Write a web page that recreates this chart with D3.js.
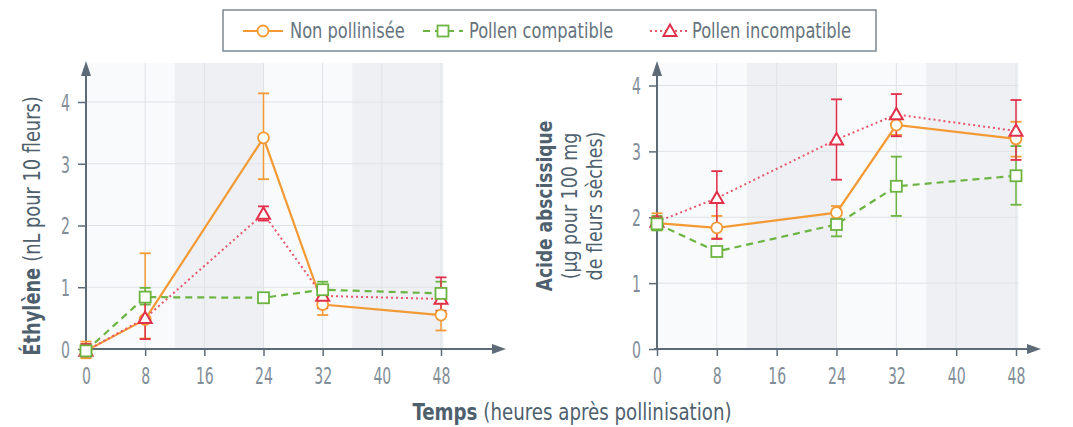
<!DOCTYPE html>
<html><head><meta charset="utf-8">
<script src="https://cdn.jsdelivr.net/npm/d3@7"></script>
<style>
body{margin:0;background:#fff;}
svg text{font-family:"DejaVu Sans Condensed","DejaVu Sans",sans-serif;}
</style></head><body>
<svg id="c" width="1073" height="427"></svg>
<script>
// ---- data ----
const hours = [0, 8, 24, 32, 48];
const xTicks = [0, 8, 16, 24, 32, 40, 48];
const yTicks = [0, 1, 2, 3, 4];
const seriesNames = ["Non pollinisée", "Pollen compatible", "Pollen incompatible"];
const nightBands = [[12, 24], [36, 48.3]];

// Ethylène (nL pour 10 fleurs)
const ethNon      = [-0.03, 0.48, 3.42, 0.72, 0.55];
const ethNonLo    = [-0.15, 0.17, 2.75, 0.55, 0.30];
const ethNonHi    = [0.12, 1.55, 4.14, 0.88, 0.82];
const ethComp     = [-0.03, 0.84, 0.83, 0.96, 0.90];
const ethCompLo   = [-0.12, 0.72, 0.76, 0.84, 0.74];
const ethCompHi   = [0.08, 0.99, 0.90, 1.09, 1.09];
const ethIncomp   = [-0.03, 0.50, 2.19, 0.86, 0.81];
const ethIncompLo = [-0.12, 0.16, 2.08, 0.66, 0.62];
const ethIncompHi = [0.08, 0.80, 2.31, 1.02, 1.16];

// Acide abscissique (µg pour 100 mg de fleurs sèches)
const abaNon      = [1.91, 1.84, 2.07, 3.40, 3.19];
const abaNonLo    = [1.81, 1.68, 1.98, 3.25, 2.92];
const abaNonHi    = [2.06, 2.02, 2.17, 3.52, 3.45];
const abaComp     = [1.90, 1.48, 1.89, 2.47, 2.63];
const abaCompLo   = [1.80, 1.42, 1.71, 2.02, 2.19];
const abaCompHi   = [2.02, 1.55, 2.06, 2.92, 3.08];
const abaIncomp   = [1.93, 2.29, 3.18, 3.56, 3.31];
const abaIncompLo = [1.85, 1.67, 2.57, 3.23, 2.87];
const abaIncompHi = [2.00, 2.70, 3.79, 3.87, 3.78];

// ---- styles ----
const COL = ["#f39a35", "#6cb441", "#e2304a"];
const LINECOL = ["#f39a35", "#6cb441", "#e8576c"];
const DASH = [null, "7,5", "2,3"];
const SHAPE = ["circle", "square", "triangle"];
const AXIS = "#5d6b78";
const TICKTXT = "#828e98";
const TITLE = "#4e5f6e";

const svg = d3.select("#c");

// horizontally condense a text element (mimics a condensed typeface)
function condense(sel, f) {
  sel.each(function () {
    const L = this.getComputedTextLength();
    d3.select(this).attr("textLength", L * f).attr("lengthAdjust", "spacingAndGlyphs");
  });
}

// centred text made of parts (bold/regular), each condensed separately
function richText(parent, transform, parts, size, f, gap, color) {
  const g = parent.append("g").attr("transform", transform);
  const items = parts.map(p => {
    const t = g.append("text").style("font-size", size + "px").attr("fill", color)
      .attr("font-weight", p[1] ? "bold" : "normal").text(p[0]);
    const L = t.node().getComputedTextLength() * f;
    t.attr("textLength", L).attr("lengthAdjust", "spacingAndGlyphs");
    return {t, L};
  });
  const total = d3.sum(items, d => d.L) + gap * (items.length - 1);
  let pos = -total / 2;
  items.forEach(d => { d.t.attr("x", pos); pos += d.L + gap; });
  return g;
}

function marker(g, shape, x, y, color) {
  if (shape === "circle") {
    g.append("circle").attr("cx", x).attr("cy", y).attr("r", 5.5)
      .attr("fill", "#fff").attr("stroke", color).attr("stroke-width", 1.8);
  } else if (shape === "square") {
    g.append("rect").attr("x", x - 5.5).attr("y", y - 5.5).attr("width", 11).attr("height", 11)
      .attr("fill", "#fff").attr("stroke", color).attr("stroke-width", 1.8);
  } else {
    const s = 6.5;
    g.append("path").attr("d", `M${x},${y - s}L${x + s},${y + s * 0.75}L${x - s},${y + s * 0.75}Z`)
      .attr("fill", "#fff").attr("stroke", color).attr("stroke-width", 2);
  }
}

function panel(cfg) {
  const x = d3.scaleLinear().domain([0, 48]).range(cfg.xr);
  const y = d3.scaleLinear().domain([0, 4]).range(cfg.yr);
  const g = svg.append("g");
  const top = 63, bottom = y(0);
  const xEnd = x(48.3);
  g.append("rect").attr("x", x(0)).attr("y", top).attr("width", xEnd - x(0)).attr("height", bottom - top)
    .attr("fill", "#f9fafb");
  g.selectAll(".band").data(nightBands).enter().append("rect")
    .attr("x", d => x(d[0])).attr("y", top).attr("width", d => x(d[1]) - x(d[0]))
    .attr("height", bottom - top).attr("fill", "#eef0f3");
  g.selectAll(".hg").data(yTicks.slice(1)).enter().append("line")
    .attr("x1", x(0)).attr("x2", xEnd).attr("y1", d => y(d)).attr("y2", d => y(d))
    .attr("stroke", "#dfe3e7").attr("stroke-width", 1);
  g.selectAll(".vg").data(xTicks.slice(1)).enter().append("line")
    .attr("x1", d => x(d)).attr("x2", d => x(d)).attr("y1", top).attr("y2", bottom)
    .attr("stroke", "#dfe3e7").attr("stroke-width", 1);

  const ax = g.append("g").attr("transform", `translate(0,${bottom})`)
    .call(d3.axisBottom(x).tickValues(xTicks).tickSize(7).tickPadding(12).tickFormat(d3.format("d")));
  ax.select(".domain").remove();
  const ay = g.append("g").attr("transform", `translate(${x(0)},0)`)
    .call(d3.axisLeft(y).tickValues(yTicks).tickSize(8).tickPadding(8).tickFormat(d3.format("d")));
  ay.select(".domain").remove();
  [ax, ay].forEach(a => {
    a.selectAll("line").attr("stroke", AXIS).attr("stroke-width", 1.5);
    a.selectAll("text").attr("fill", TICKTXT).style("font-size", "23px");
    condense(a.selectAll("text"), 0.68);
  });
  ay.selectAll("text").attr("dy", "0.36em");
  g.append("line").attr("x1", x(0) - 3).attr("x2", cfg.arrowX - 8).attr("y1", bottom).attr("y2", bottom)
    .attr("stroke", AXIS).attr("stroke-width", 2);
  g.append("path").attr("d", `M${cfg.arrowX},${bottom}L${cfg.arrowX - 14},${bottom - 5}L${cfg.arrowX - 14},${bottom + 5}Z`).attr("fill", AXIS);
  g.append("line").attr("x1", x(0)).attr("x2", x(0)).attr("y1", bottom + 1).attr("y2", 72)
    .attr("stroke", AXIS).attr("stroke-width", 2);
  g.append("path").attr("d", `M${x(0)},61L${x(0) - 5},76L${x(0) + 5},76Z`).attr("fill", AXIS);

  const S = cfg.series;
  S.forEach((s, i) => {
    hours.forEach((h, j) => {
      const xx = x(h);
      g.append("line").attr("x1", xx).attr("x2", xx).attr("y1", y(s.lo[j])).attr("y2", y(s.hi[j]))
        .attr("stroke", COL[i]).attr("stroke-width", 1.5);
      [s.lo[j], s.hi[j]].forEach(v => g.append("line").attr("x1", xx - 5.5).attr("x2", xx + 5.5)
        .attr("y1", y(v)).attr("y2", y(v)).attr("stroke", COL[i]).attr("stroke-width", 1.8));
    });
  });
  const line = d3.line().x((d, j) => x(hours[j])).y(d => y(d));
  S.forEach((s, i) => {
    g.append("path").attr("d", line(s.v)).attr("fill", "none")
      .attr("stroke", LINECOL[i]).attr("stroke-width", i === 2 ? 2 : 2.2)
      .attr("stroke-dasharray", DASH[i]);
  });
  [0, 2, 1].forEach(i => {
    hours.forEach((h, j) => marker(g, SHAPE[i], x(h), y(S[i].v[j]), COL[i]));
  });
}

panel({
  xr: [86, 441], yr: [349, 102], arrowX: 506,
  series: [
    {v: ethNon, lo: ethNonLo, hi: ethNonHi},
    {v: ethComp, lo: ethCompLo, hi: ethCompHi},
    {v: ethIncomp, lo: ethIncompLo, hi: ethIncompHi}
  ]
});
panel({
  xr: [657, 1016], yr: [349, 85.5], arrowX: 1041,
  series: [
    {v: abaNon, lo: abaNonLo, hi: abaNonHi},
    {v: abaComp, lo: abaCompLo, hi: abaCompHi},
    {v: abaIncomp, lo: abaIncompLo, hi: abaIncompHi}
  ]
});

// axis titles
richText(svg, "translate(40,226) rotate(-90)", [["Éthylène", true], ["(nL pour 10 fleurs)", false]], 23, 0.86, 6, TITLE);

[["Acide abscissique", true, 552, 0.86], ["(µg pour 100 mg", false, 577, 0.88], ["de fleurs sèches)", false, 602, 0.88]].forEach(d => {
  richText(svg, `translate(${d[2]},206) rotate(-90)`, [[d[0], d[1]]], 22, d[3], 0, TITLE);
});

richText(svg, "translate(572,420)", [["Temps", true], ["(heures après pollinisation)", false]], 23, 0.88, 6, TITLE);

// legend
const lg = svg.append("g");
lg.append("rect").attr("x", 223).attr("y", 10).attr("width", 653).attr("height", 41)
  .attr("fill", "#fff").attr("stroke", "#7d8891").attr("stroke-width", 1.5);
const legPos = [[243, 290], [423, 469], [650, 692]];
seriesNames.forEach((n, i) => {
  const [lx, tx0] = legPos[i];
  lg.append("line").attr("x1", lx).attr("x2", lx + 40).attr("y1", 31).attr("y2", 31)
    .attr("stroke", LINECOL[i]).attr("stroke-width", 2.2).attr("stroke-dasharray", DASH[i]);
  marker(lg, SHAPE[i], lx + 20, 31, COL[i]);
  const t = lg.append("text").attr("x", tx0).attr("y", 38).style("font-size", "21px").attr("fill", "#66737e").text(n);
  condense(t, 0.86);
});
</script>
</body></html>
